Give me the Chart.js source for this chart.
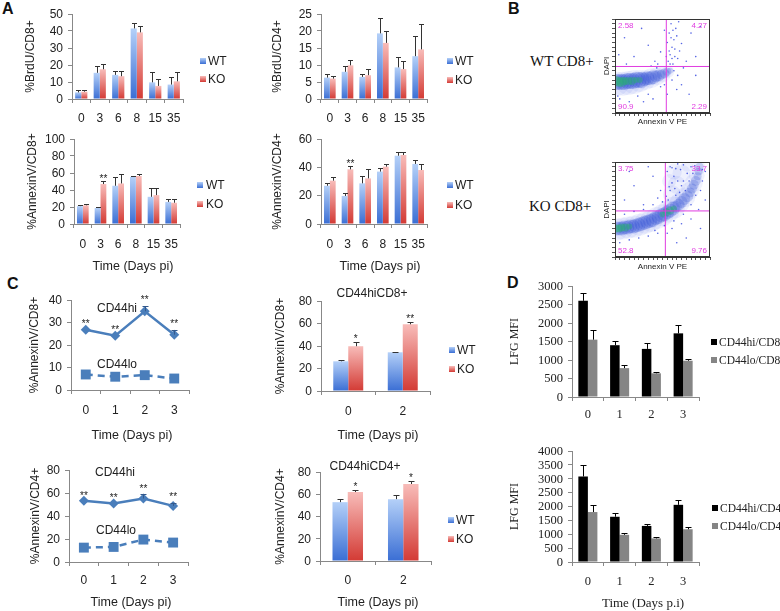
<!DOCTYPE html>
<html>
<head>
<meta charset="utf-8">
<title>Figure</title>
<script src="https://cdn.jsdelivr.net/npm/chart.js@4.4.1/dist/chart.umd.min.js"></script>
<style>
  body { margin:0; width:780px; height:611px; position:relative; background:#fff; overflow:hidden; }
  .slot { position:absolute; }
  .tag { position:absolute; font:bold 16px/16px "Liberation Sans", Arial, sans-serif; color:#111; }
  .cond { position:absolute; font:15px/15px "Liberation Serif", "Times New Roman", serif; color:#111; white-space:nowrap; }
</style>
</head>
<body>
<div class="tag" style="left:2px;top:1px">A</div>
<div class="tag" style="left:508px;top:1px">B</div>
<div class="tag" style="left:7px;top:276px">C</div>
<div class="tag" style="left:507px;top:275px">D</div>
<div class="cond" style="left:530px;top:54px">WT CD8+</div>
<div class="cond" style="left:529px;top:199px">KO CD8+</div>
<script>
// ---- data ----
var daysA = ["0", "3", "6", "8", "15", "35"];
var daysC = ["0", "1", "2", "3"];
var daysC2 = ["0", "2"];

var brdu8WT = [3.9, 15.4, 14.2, 41.5, 9.8, 8.5];
var brdu8WTErr = [1.2, 3.9, 2.3, 3.0, 6.2, 4.5];
var brdu8KO = [4.3, 17.5, 13.4, 39.2, 7.7, 10.4];
var brdu8KOErr = [0.8, 2.8, 3.1, 3.9, 3.9, 5.6];
var brdu4WT = [6.3, 8.0, 6.5, 19.3, 9.3, 12.6];
var brdu4WTErr = [1.0, 1.6, 0.8, 4.4, 3.1, 5.9];
var brdu4KO = [6.0, 9.9, 7.0, 16.5, 8.8, 14.6];
var brdu4KOErr = [0.8, 1.7, 1.7, 3.5, 2.3, 7.4];
var ann8WT = [21, 18.8, 45, 55.4, 32, 26];
var ann8WTErr = [1, 1.2, 10, 1.1, 10, 3.6];
var ann8KO = [22, 47, 47.7, 56.5, 34, 25];
var ann8KOErr = [2, 4, 11.3, 2, 8, 4.6];
var ann8Stars = ["", "**", "", "", "", ""];
var ann4WT = [27, 19.8, 28.7, 37, 48.2, 42.4];
var ann4WTErr = [1.7, 1.8, 5.3, 2.3, 2.4, 2.8];
var ann4KO = [30.6, 38.6, 32.2, 40.5, 48.7, 38.1];
var ann4KOErr = [2.4, 2.6, 6.6, 1.9, 1.9, 4];
var ann4Stars = ["", "**", "", "", "", ""];

var hi8 = [26.8, 24.1, 35, 24.6];
var hi8Err = [0, 0, 2.5, 2.2];
var hi8Stars = ["**", "**", "**", "**"];
var lo8 = [6.9, 5.9, 6.6, 5.1];
var hi4 = [53.2, 50.9, 55.2, 48.8];
var hi4Err = [0, 0, 3.8, 2.9];
var hi4Stars = ["**", "**", "**", "**"];
var lo4 = [12.5, 13.1, 19.5, 16.9];

var hiCD8WT = [26.4, 34.4];
var hiCD8WTErr = [1.5, 0.6];
var hiCD8KO = [39.8, 59.3];
var hiCD8KOErr = [3.8, 2.1];
var hiCD8Stars = ["*", "**"];
var hiCD4WT = [52.9, 55.6];
var hiCD4WTErr = [3, 3.9];
var hiCD4KO = [62, 69.2];
var hiCD4KOErr = [1.5, 2.4];
var hiCD4Stars = ["*", "*"];

var lfg8Hi = [2600, 1400, 1300, 1720];
var lfg8HiErr = [220, 120, 170, 220];
var lfg8Lo = [1550, 780, 640, 980];
var lfg8LoErr = [250, 80, 30, 50];
var lfg4Hi = [3080, 1630, 1300, 2060];
var lfg4HiErr = [420, 120, 60, 170];
var lfg4Lo = [1800, 980, 850, 1180];
var lfg4LoErr = [270, 50, 40, 90];

// flow plots: quadrant %, gate position (x, y), cloud as [x, y, radius]
var wtQuad = ["2.58", "4.27", "90.9", "2.29"];
var koQuad = ["3.75", "33.7", "52.8", "9.76"];
var wtGate = [54, 49.5];
var koGate = [53, 48.5];
var wtHalo = [[2,31,12],[8,31,12],[14,32,12],[20,33,12],[26,34,11],[32,35,10],[38,37,10],[44,39,9],[50,41,8],[56,44,6]];
var wtBand = [[1,33,8],[4,33,8],[7,33,8],[10,33,8],[13,34,8],[16,34,8],[19,34,8],[22,35,8],[25,35,8],[28,35,8],[31,36,7],[34,37,7],[37,37,7],[40,38,7],[43,39,6],[46,40,6],[49,41,5],[52,42,5],[55,44,4],[58,45,3]];
var wtCore = [[1,34,5],[4,33,5],[7,33,5],[10,34,4],[14,34,4],[18,34,4],[22,35,3],[26,35,3]];
var wtSpeck = [[56,55],[58,62],[60,70],[62,78],[57,85],[64,90],[66,58],[68,66],[59,95],[55,75],[61,52],[70,74],[63,68],[20,60],[35,72],[10,80],[42,55],[28,90],[48,65],[80,85],[85,60],[75,55],[90,92],[70,30],[78,20],[65,25],[85,40],[40,15],[55,20],[30,12],[15,12],[5,15],[62,45],[66,40],[60,35],[72,48],[4,62],[12,52],[52,88],[67,97],[58,52],[60,58],[57,66],[63,60],[59,80],[61,88],[65,82],[54,60],[38,50],[45,52],[3,18],[24,18],[35,20],[48,28],[52,30],[44,48]];
var koHalo = [[2,29,11],[8,30,11],[14,31,11],[20,32,11],[26,34,11],[32,36,11],[38,38,11],[44,41,11],[50,44,11],[56,48,11],[62,52,11],[68,57,10],[74,63,10],[79,70,9],[83,78,9],[86,86,8],[88,94,7],[60,66,9],[65,76,9],[70,88,9],[62,90,8],[76,96,6],[57,80,7]];
var koBand = [[1,30,7],[4,30,7],[7,30,7],[10,31,7],[13,31,7],[16,32,7],[19,32,7],[22,33,7],[25,34,7],[28,35,7],[31,36,7],[34,37,7],[37,38,7],[40,39,7],[43,41,7],[46,42,7],[49,44,7],[52,45,7],[55,47,7],[58,49,7],[61,51,7],[64,53,6],[67,55,6],[70,58,6],[73,61,6],[76,64,6],[79,68,5],[81,72,5],[83,76,5],[85,80,5],[87,85,4],[88,90,4],[89,95,4]];
var koCore = [[1,30,4],[4,30,4],[7,31,4],[11,31,4],[15,32,3],[50,45,3],[54,47,4],[58,49,4],[62,51,3]];
var koSpeck = [[56,60],[58,70],[60,78],[62,85],[64,93],[66,98],[55,90],[58,95],[70,75],[72,80],[76,88],[80,95],[68,68],[74,70],[90,70],[92,80],[85,65],[95,90],[10,60],[20,75],[30,55],[40,85],[45,62],[35,95],[15,90],[48,70],[60,30],[70,35],[80,40],[75,20],[88,50],[65,15],[90,30],[55,25],[95,60],[5,15],[15,18],[25,20],[35,22],[45,25],[10,45],[20,48],[30,50],[54,64],[57,74],[63,72],[66,80],[69,92],[72,97],[60,94],[64,65],[78,80],[82,88],[84,96],[92,92],[40,55],[50,58],[42,28],[52,33],[62,38],[72,45],[80,55]];

// ---- look ----
var SANS = '"Liberation Sans", Arial, sans-serif';
var SERIF = '"Liberation Serif", "Times New Roman", serif';
var BLUE = ["#b4d0f8", "#3a6ed4"];
var RED = ["#f8bcb9", "#d33a34"];
var LINE = "#4a7ebb";

Chart.defaults.animation = false;
Chart.defaults.font.family = SANS;
Chart.defaults.color = "#222";

function barFill(stops) {
  return function (c) {
    var ch = c.chart;
    if (c.type !== "data" || !ch.chartArea || !c.parsed) return stops[1];
    var y = ch.scales.y;
    var top = y.getPixelForValue(c.parsed.y), bot = y.getPixelForValue(0);
    if (!isFinite(top) || Math.abs(bot - top) < 1) return stops[1];
    var g = ch.ctx.createLinearGradient(0, top, 0, bot);
    g.addColorStop(0, stops[0]);
    g.addColorStop(1, stops[1]);
    return g;
  };
}

// error bars, stars, legends and loose text
var extras = {
  id: "extras",
  afterDatasetsDraw: function (chart, args, o) {
    var ctx = chart.ctx, ox = o.ox || 0, oy = o.oy || 0;
    ctx.save();
    chart.data.datasets.forEach(function (ds, di) {
      if (!ds.errors && !ds.stars) return;
      var meta = chart.getDatasetMeta(di), ys = chart.scales.y;
      meta.data.forEach(function (el, i) {
        var v = ds.data[i], e = ds.errors ? ds.errors[i] : 0;
        var y0 = ys.getPixelForValue(v), y1 = ys.getPixelForValue(v + (e || 0));
        var x = Math.round(el.x) + 0.5;
        if (e) {
          ctx.strokeStyle = o.errColor || "#333";
          ctx.lineWidth = 1;
          ctx.beginPath();
          ctx.moveTo(x, y0);
          ctx.lineTo(x, Math.round(y1) + 0.5);
          ctx.moveTo(x - (o.cap || 3), Math.round(y1) + 0.5);
          ctx.lineTo(x + (o.cap || 3), Math.round(y1) + 0.5);
          ctx.stroke();
        }
        if (ds.stars && ds.stars[i]) {
          var fs = o.starSize || 10;
          ctx.font = fs + "px " + SANS;
          ctx.fillStyle = "#222";
          ctx.textAlign = "center";
          ctx.textBaseline = "alphabetic";
          ctx.fillText(ds.stars[i], el.x, Math.min(y0, y1) - (o.starGap || 5) + 0.57 * fs);
        }
      });
    });
    if (o.legend) {
      var L = o.legend;
      chart.data.datasets.forEach(function (ds, i) {
        var x = L.x - ox, y = L.y[i] - oy, b = L.box;
        var fill = ds.legendFill || ds.borderColor;
        if (ds.stops) {
          fill = ctx.createLinearGradient(0, y - b / 2, 0, y + b / 2);
          fill.addColorStop(0, ds.stops[0]);
          fill.addColorStop(1, ds.stops[1]);
        }
        ctx.fillStyle = fill;
        ctx.fillRect(x, y - b / 2, b, b);
        ctx.fillStyle = "#222";
        ctx.font = L.font;
        ctx.textAlign = "left";
        ctx.textBaseline = "middle";
        ctx.fillText(ds.label, x + b + L.gap, y + 0.5);
      });
    }
    (o.texts || []).forEach(function (t) {
      ctx.font = t.font;
      ctx.fillStyle = t.color || "#222";
      ctx.textAlign = t.align || "center";
      ctx.textBaseline = "middle";
      ctx.fillText(t.text, t.x - ox, t.y - oy);
    });
    ctx.restore();
  },
  afterDraw: function (chart, args, o) {
    var ctx = chart.ctx, a = chart.chartArea;
    if (o.quad) {
      var q = o.quad;
      ctx.save();
      ctx.strokeStyle = "#333";
      ctx.lineWidth = 1;
      ctx.strokeRect(a.left + 0.5, a.top + 0.5, a.right - a.left - 1, a.bottom - a.top - 1);
      ctx.font = "8px " + SANS;
      ctx.fillStyle = "#e03ce0";
      ctx.textBaseline = "top";
      ctx.textAlign = "left";  ctx.fillText(q[0], a.left + 3, a.top + 3);
      ctx.textAlign = "right"; ctx.fillText(q[1], a.right - 3, a.top + 3);
      ctx.textBaseline = "bottom";
      ctx.textAlign = "left";  ctx.fillText(q[2], a.left + 3, a.bottom - 2);
      ctx.textAlign = "right"; ctx.fillText(q[3], a.right - 3, a.bottom - 2);
      ctx.restore();
      return;
    }
    // y tick labels: written last, from the y scale's own ticks
    if (!o.yFont) return;
    var ys = chart.scales.y;
    ctx.save();
    ctx.font = o.yFont;
    ctx.fillStyle = "#222";
    ctx.textAlign = "right";
    ctx.textBaseline = "middle";
    ys.ticks.forEach(function (t) {
      ctx.fillText(String(t.value), ys.right - 9, ys.getPixelForValue(t.value) + 0.5);
    });
    ctx.restore();
  }
};

// a = wanted chart area on the page, m = margins around it
function panel(a, m, type, data, scales, ex) {
  var left = a.l - m.yw, top = a.t - m.top;
  var w = a.r - a.l + m.yw + m.right, h = a.b - a.t + m.top + m.xh;
  var slot = document.createElement("div");
  slot.className = "slot";
  slot.style.left = left + "px"; slot.style.top = top + "px";
  slot.style.width = w + "px"; slot.style.height = h + "px";
  var c = document.createElement("canvas");
  c.width = w; c.height = h;
  c.style.width = w + "px"; c.style.height = h + "px";
  slot.appendChild(c);
  document.body.appendChild(slot);
  ex.ox = left; ex.oy = top;
  scales.y.afterFit = function (s) { s.width = m.yw; };
  scales.x.afterFit = function (s) { s.height = m.xh; };
  return new Chart(c, {
    type: type,
    data: data,
    options: {
      responsive: false,
      events: [],
      layout: { padding: { top: m.top, right: m.right, left: 0, bottom: 0 } },
      plugins: { legend: { display: false }, tooltip: { enabled: false }, extras: ex },
      scales: scales
    },
    plugins: [extras]
  });
}

function xCat(pad, font) {
  return {
    offset: true,
    grid: { offset: true, drawOnChartArea: false, drawTicks: true, tickLength: 4, color: "#888" },
    border: { color: "#888" },
    ticks: { padding: pad, font: font || { size: 12 }, color: "#222", autoSkip: false, maxRotation: 0 }
  };
}
function yLin(max, step, title, tfont) {
  return {
    min: 0, max: max,
    grid: { drawOnChartArea: false, drawTicks: true, tickLength: 4, color: "#888" },
    border: { color: "#888" },
    ticks: { display: false, stepSize: step, autoSkip: false },
    title: { display: true, text: title, padding: 0, font: tfont || { size: 12 }, color: "#222" }
  };
}
function wtko(labels, wt, wtErr, ko, koErr, koStars, cat) {
  return {
    labels: labels,
    datasets: [
      { label: "WT", data: wt, errors: wtErr, stops: BLUE, backgroundColor: barFill(BLUE),
        categoryPercentage: cat, barPercentage: 1, borderWidth: 0 },
      { label: "KO", data: ko, errors: koErr, stars: koStars, stops: RED, backgroundColor: barFill(RED),
        categoryPercentage: cat, barPercentage: 1, borderWidth: 0 }
    ]
  };
}
var lg = "12px " + SANS;
var yf = "12px " + SANS;
var timeFont = "12.5px " + SANS;

// ---- panel A ----
panel({ l: 72, r: 183, t: 14, b: 99 }, { yw: 49, top: 10, right: 50, xh: 25 }, "bar",
  wtko(daysA, brdu8WT, brdu8WTErr, brdu8KO, brdu8KOErr, null, 0.66),
  { x: xCat(8), y: yLin(50, 10, "%BrdU/CD8+") },
  { cap: 2.5, yFont: yf, legend: { x: 200, y: [61, 79], box: 6, gap: 2, font: lg } });

panel({ l: 321, r: 427, t: 14, b: 99 }, { yw: 51, top: 10, right: 50, xh: 25 }, "bar",
  wtko(daysA, brdu4WT, brdu4WTErr, brdu4KO, brdu4KOErr, null, 0.66),
  { x: xCat(8), y: yLin(25, 5, "%BrdU/CD4+") },
  { cap: 2.5, yFont: yf, legend: { x: 447, y: [61, 80], box: 6, gap: 2, font: lg } });

panel({ l: 74, r: 180, t: 139, b: 224 }, { yw: 49, top: 10, right: 50, xh: 52 }, "bar",
  wtko(daysA, ann8WT, ann8WTErr, ann8KO, ann8KOErr, ann8Stars, 0.66),
  { x: xCat(9), y: yLin(100, 20, "%AnnexinV/CD8+") },
  { cap: 2.5, starGap: 4, yFont: yf, legend: { x: 197, y: [185, 204], box: 6, gap: 3, font: lg },
    texts: [{ text: "Time (Days pi)", x: 133, y: 267, font: timeFont }] });

panel({ l: 321, r: 427, t: 139, b: 224 }, { yw: 51, top: 10, right: 50, xh: 52 }, "bar",
  wtko(daysA, ann4WT, ann4WTErr, ann4KO, ann4KOErr, ann4Stars, 0.66),
  { x: xCat(9), y: yLin(60, 20, "%AnnexinV/CD4+") },
  { cap: 2.5, starGap: 4, yFont: yf, legend: { x: 447, y: [185, 205], box: 6, gap: 2, font: lg },
    texts: [{ text: "Time (Days pi)", x: 380, y: 267, font: timeFont }] });

// ---- panel C ----
function hiLo(hi, hiErr, hiStars, lo) {
  return {
    labels: daysC,
    datasets: [
      { label: "CD44hi", data: hi, errors: hiErr, stars: hiStars, borderColor: LINE, backgroundColor: LINE,
        borderWidth: 2.5, pointStyle: "rectRot", pointRadius: 5, pointBorderWidth: 0, tension: 0 },
      { label: "CD44lo", data: lo, borderColor: LINE, backgroundColor: LINE, borderDash: [7, 5],
        borderWidth: 2.5, pointStyle: "rect", pointRadius: 7, pointBorderWidth: 0, tension: 0 }
    ]
  };
}
panel({ l: 71, r: 189, t: 300, b: 390 }, { yw: 44, top: 12, right: 10, xh: 52 }, "line",
  hiLo(hi8, hi8Err, hi8Stars, lo8),
  { x: xCat(9), y: yLin(40, 10, "%AnnexinV/CD8+") },
  { cap: 3, errColor: "#34598c", starGap: 8, yFont: yf,
    texts: [{ text: "CD44hi", x: 97, y: 309, font: lg, align: "left" },
            { text: "CD44lo", x: 97, y: 365, font: lg, align: "left" },
            { text: "Time (Days pi)", x: 132, y: 436, font: timeFont }] });

panel({ l: 69, r: 188, t: 470, b: 562 }, { yw: 41, top: 12, right: 10, xh: 48 }, "line",
  hiLo(hi4, hi4Err, hi4Stars, lo4),
  { x: xCat(7), y: yLin(80, 20, "%AnnexinV/CD4+") },
  { cap: 3, errColor: "#34598c", starGap: 8, yFont: yf,
    texts: [{ text: "CD44hi", x: 95, y: 473, font: lg, align: "left" },
            { text: "CD44lo", x: 96, y: 531, font: lg, align: "left" },
            { text: "Time (Days pi)", x: 131, y: 603, font: timeFont }] });

panel({ l: 321, r: 430, t: 301, b: 391 }, { yw: 48, top: 16, right: 50, xh: 52 }, "bar",
  wtko(daysC2, hiCD8WT, hiCD8WTErr, hiCD8KO, hiCD8KOErr, hiCD8Stars, 0.55),
  { x: xCat(9), y: yLin(80, 20, "%AnnexinV/CD8+") },
  { cap: 3, starGap: 6, yFont: yf, legend: { x: 449, y: [350, 369], box: 6, gap: 2, font: lg },
    texts: [{ text: "CD44hiCD8+", x: 372, y: 294, font: lg },
            { text: "Time (Days pi)", x: 378, y: 436, font: timeFont }] });

panel({ l: 320, r: 431, t: 472, b: 561 }, { yw: 47, top: 14, right: 50, xh: 49 }, "bar",
  wtko(daysC2, hiCD4WT, hiCD4WTErr, hiCD4KO, hiCD4KOErr, hiCD4Stars, 0.55),
  { x: xCat(8), y: yLin(80, 20, "%AnnexinV/CD4+") },
  { cap: 3, starGap: 6, yFont: yf, legend: { x: 448, y: [520, 539], box: 6, gap: 2, font: lg },
    texts: [{ text: "CD44hiCD4+", x: 365, y: 467, font: lg },
            { text: "Time (Days pi)", x: 378, y: 603, font: timeFont }] });

// ---- panel D ----
function hiLoBars(hi, hiErr, lo, loErr, tag) {
  return {
    labels: daysC,
    datasets: [
      { label: "CD44hi/" + tag, data: hi, errors: hiErr, backgroundColor: "#000", legendFill: "#000",
        categoryPercentage: 0.6, barPercentage: 1, borderWidth: 0 },
      { label: "CD44lo/" + tag, data: lo, errors: loErr, backgroundColor: "#858585", legendFill: "#858585",
        categoryPercentage: 0.6, barPercentage: 1, borderWidth: 0 }
    ]
  };
}
var sf = { family: SERIF, size: 12.5 };
var syf = "12.5px " + SERIF;
var slg = "11.5px " + SERIF;
panel({ l: 572, r: 699, t: 286, b: 397 }, { yw: 64, top: 10, right: 81, xh: 25 }, "bar",
  hiLoBars(lfg8Hi, lfg8HiErr, lfg8Lo, lfg8LoErr, "CD8"),
  { x: xCat(6, sf), y: yLin(3000, 500, "LFG MFI", { family: SERIF, size: 12 }) },
  { cap: 3, errColor: "#000", yFont: syf, legend: { x: 711, y: [342, 360], box: 6, gap: 2, font: slg } });

panel({ l: 572, r: 699, t: 451, b: 562 }, { yw: 64, top: 10, right: 81, xh: 49 }, "bar",
  hiLoBars(lfg4Hi, lfg4HiErr, lfg4Lo, lfg4LoErr, "CD4"),
  { x: xCat(8, sf), y: yLin(4000, 500, "LFG MFI", { family: SERIF, size: 12 }) },
  { cap: 3, errColor: "#000", yFont: syf, legend: { x: 712, y: [508, 526], box: 6, gap: 2, font: slg },
    texts: [{ text: "Time (Days p.i)", x: 643, y: 604, font: "13px " + SERIF }] });

// ---- panel B: flow plots ----
function pts(list, r) {
  return list.map(function (p) { return { x: p[0], y: p[1], r: r || p[2] }; });
}
function flowData(gate, halo, band, core, speck) {
  var mag = "#e03ce0";
  return {
    datasets: [
      { type: "line", data: [{ x: gate[0], y: 0 }, { x: gate[0], y: 100 }], borderColor: mag, borderWidth: 1, pointRadius: 0 },
      { type: "line", data: [{ x: 0, y: gate[1] }, { x: 100, y: gate[1] }], borderColor: mag, borderWidth: 1, pointRadius: 0 },
      { data: pts(core), backgroundColor: "rgba(40,180,110,0.4)", borderWidth: 0 },
      { data: pts(band), backgroundColor: "rgba(25,60,205,0.2)", borderWidth: 0 },
      { data: pts(halo), backgroundColor: "rgba(50,80,230,0.08)", borderWidth: 0 },
      { data: pts(speck, 0.8), backgroundColor: "rgba(30,50,220,0.75)", borderWidth: 0 }
    ]
  };
}
function flowScales() {
  var tiny = { size: 8, family: SANS };
  return {
    x: { type: "linear", min: 0, max: 100,
         grid: { drawOnChartArea: false, drawTicks: true, tickLength: 3, color: "#555" },
         border: { color: "#333" }, ticks: { display: false, stepSize: 5 },
         title: { display: true, text: "Annexin V PE", font: tiny, padding: 0, color: "#222" } },
    y: { type: "linear", min: 0, max: 100,
         grid: { drawOnChartArea: false, drawTicks: true, tickLength: 3, color: "#555" },
         border: { color: "#333" }, ticks: { display: false, stepSize: 5 },
         title: { display: true, text: "DAPI", font: tiny, padding: 0, color: "#222" } }
  };
}
panel({ l: 615, r: 719, t: 10, b: 113 }, { yw: 13, top: 3, right: 3, xh: 14 }, "bubble",
  flowData(wtGate, wtHalo, wtBand, wtCore, wtSpeck), flowScales(), { quad: wtQuad });
panel({ l: 615, r: 718, t: 154, b: 257 }, { yw: 13, top: 3, right: 3, xh: 15 }, "bubble",
  flowData(koGate, koHalo, koBand, koCore, koSpeck), flowScales(), { quad: koQuad });
</script>
</body>
</html>
